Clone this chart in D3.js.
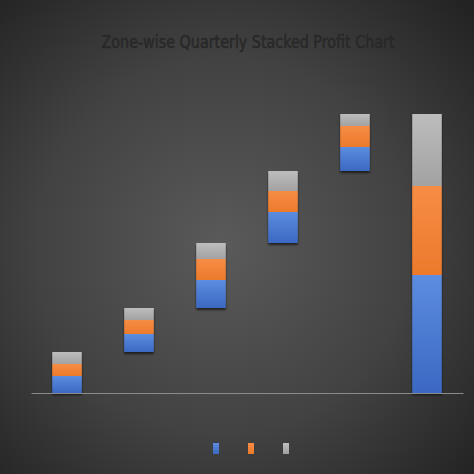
<!DOCTYPE html>
<html>
<head>
<meta charset="utf-8">
<script src="https://cdn.jsdelivr.net/npm/d3@7"></script>
<style>
  html, body { margin: 0; padding: 0; background: #333; }
  #chart { width: 474px; height: 474px; }
</style>
</head>
<body>
<div id="chart"></div>
<script>
var width = 474;
var height = 474;
var margin = {top: 93, left: 31, right: 11, bottom: 81};

// data
var zones = ["Zone 1", "Zone 2", "Zone 3", "Zone 4", "Zone 5"];
var totalLabel = "Total";
var seriesNames = ["Q1", "Q2", "Q3"];
var q1 = [17, 18, 28, 31, 24];
var q2 = [12, 14, 21, 21, 21];
var q3 = [12, 12, 16, 20, 12];
var seriesColors = ["#4472c4", "#ed7d31", "#a5a5a5"];

var svg = d3.select("#chart")
  .append("svg")
  .attr("width", width)
  .attr("height", height);

var defs = svg.append("defs");

var bg = defs.append("radialGradient")
  .attr("id", "bg")
  .attr("cx", "47%").attr("cy", "52%").attr("r", "72%");
bg.append("stop").attr("offset", "0%").attr("stop-color", "#5a5a5a");
bg.append("stop").attr("offset", "55%").attr("stop-color", "#424242");
bg.append("stop").attr("offset", "100%").attr("stop-color", "#232323");

var lighter = ["#5b8de0", "#f68d45", "#bdbdbd"];
var darker = ["#3b68c2", "#ec7a2b", "#a2a2a2"];
seriesColors.forEach(function(c, i) {
  var g = defs.append("linearGradient")
    .attr("id", "grad" + i)
    .attr("x1", 0).attr("y1", 0).attr("x2", 0).attr("y2", 1);
  g.append("stop").attr("offset", "0%").attr("stop-color", lighter[i]);
  g.append("stop").attr("offset", "100%").attr("stop-color", darker[i]);
});

var shadow = defs.append("filter").attr("id", "shadow")
  .attr("x", "-20%").attr("y", "-20%").attr("width", "140%").attr("height", "140%");
shadow.append("feDropShadow")
  .attr("dx", 0).attr("dy", 2).attr("stdDeviation", 1.2)
  .attr("flood-color", "#000").attr("flood-opacity", 0.6);

svg.append("rect")
  .attr("width", width).attr("height", height)
  .attr("fill", "url(#bg)");

// build stacked waterfall rows
var rows = [];
var base = 0;
zones.forEach(function(z, i) {
  var vals = [q1[i], q2[i], q3[i]];
  var y0 = base;
  vals.forEach(function(v, s) {
    rows.push({cat: z, s: s, y0: y0, y1: y0 + v});
    y0 += v;
  });
  base = y0;
});
var totals = [d3.sum(q1), d3.sum(q2), d3.sum(q3)];
var t0 = 0;
totals.forEach(function(v, s) {
  rows.push({cat: totalLabel, s: s, y0: t0, y1: t0 + v});
  t0 += v;
});

var xScale = d3.scaleBand()
  .domain(zones.concat([totalLabel]))
  .range([margin.left, width - margin.right])
  .paddingInner(0.59)
  .paddingOuter(0.295);

var yScale = d3.scaleLinear()
  .domain([0, 300])
  .range([height - margin.bottom, margin.top]);

svg.append("text")
  .attr("x", 248)
  .attr("y", 48)
  .attr("text-anchor", "middle")
  .attr("textLength", 293)
  .attr("lengthAdjust", "spacingAndGlyphs")
  .style("font-family", "'Liberation Sans Narrow', 'DejaVu Sans Condensed', sans-serif")
  .style("font-size", "18px")
  .attr("fill", "#282828")
  .attr("stroke", "#282828")
  .attr("stroke-width", 0.5)
  .text("Zone-wise Quarterly Stacked Profit Chart");

// bars, one group per category for the shadow
var cats = svg.selectAll("g.cat")
  .data(xScale.domain())
  .enter()
  .append("g")
    .attr("class", "cat")
    .attr("filter", "url(#shadow)");

cats.selectAll("rect")
  .data(function(c) { return rows.filter(function(r) { return r.cat === c; }); })
  .enter()
  .append("rect")
    .attr("x", function(d) { return xScale(d.cat); })
    .attr("y", function(d) { return yScale(d.y1); })
    .attr("width", xScale.bandwidth())
    .attr("height", function(d) { return yScale(d.y0) - yScale(d.y1); })
    .attr("fill", function(d) { return "url(#grad" + d.s + ")"; });

// baseline axis
var xAxis = svg.append("g")
  .attr("transform", "translate(0," + yScale(0) + ")")
  .call(d3.axisBottom(xScale).tickSize(0).tickFormat(""));
xAxis.select(".domain").attr("stroke", "#8a8a8a").attr("stroke-width", 1);

// legend squares
var legend = svg.selectAll("g.legend")
  .data(seriesNames)
  .enter()
  .append("g")
    .attr("class", "legend")
    .attr("transform", function(d, i) { return "translate(" + (213 + i * 35) + ",443)"; });

legend.append("rect")
  .attr("width", 6)
  .attr("height", 11)
  .attr("fill", function(d, i) { return "url(#grad" + i + ")"; });
</script>
</body>
</html>
